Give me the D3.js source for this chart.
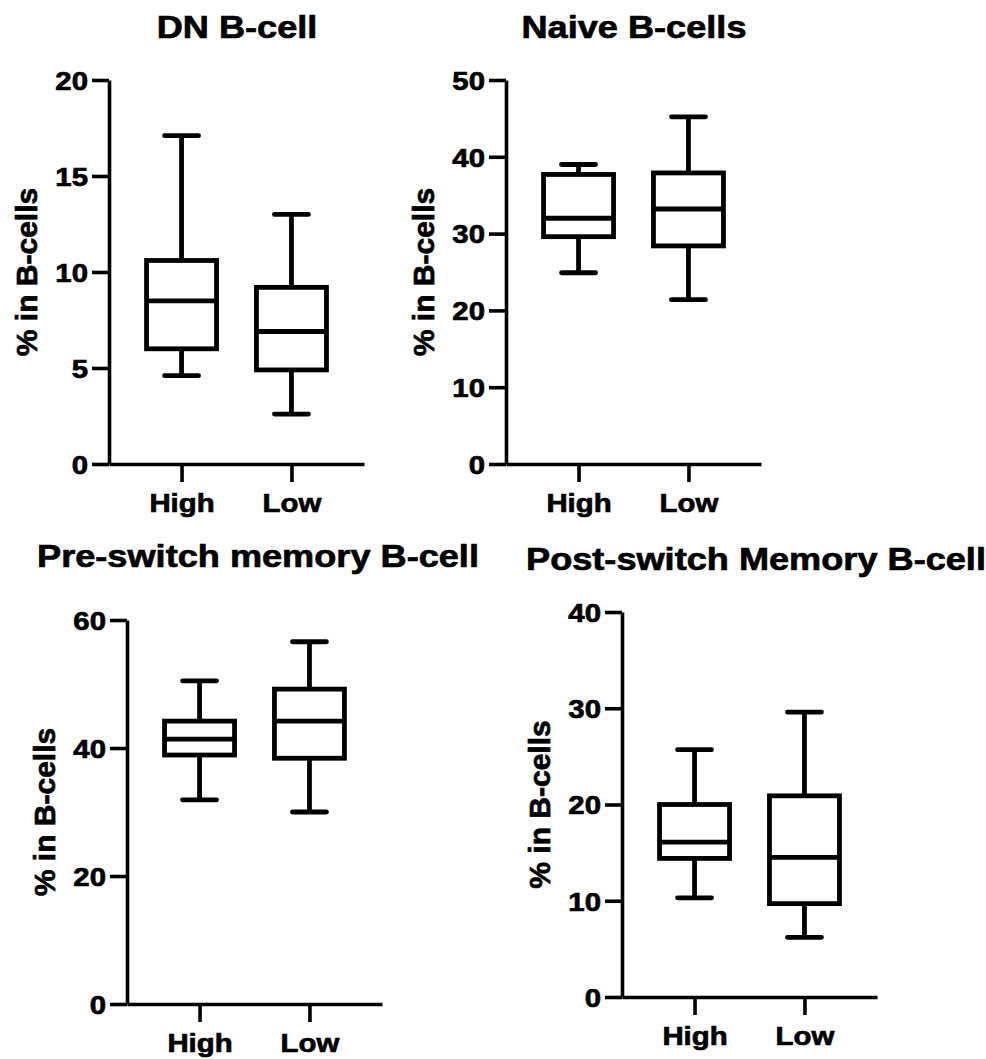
<!DOCTYPE html>
<html>
<head>
<meta charset="utf-8">
<script src="https://cdn.jsdelivr.net/npm/d3@7"></script>
<style>
  body { margin: 0; background: #fff; }
  svg { display: block; }
  svg text { stroke: #000; stroke-width: 0.7px; }
</style>
</head>
<body>
<svg id="chart" width="986" height="1059"></svg>
<script>
// categories and panel texts
const groups = ["High", "Low"];
const titles = ["DN B-cell", "Naive B-cells", "Pre-switch memory B-cell", "Post-switch Memory B-cell"];
const yLabel = "% in B-cells";
const yMax = [20, 50, 60, 40];
const yStep = [5, 10, 20, 10];

// five-number summaries [min, q1, median, q3, max] for High, Low
const dnBcell = [[4.6, 6.0, 8.5, 10.6, 17.1], [2.6, 4.9, 6.9, 9.2, 13.0]];
const naiveBcells = [[24.9, 29.6, 32.0, 37.7, 39.0], [21.4, 28.4, 33.2, 37.9, 45.2]];
const preSwitchMemory = [[31.9, 38.9, 41.4, 44.2, 50.5], [30.0, 38.4, 44.2, 49.2, 56.6]];
const postSwitchMemory = [[10.3, 14.4, 16.1, 20.0, 25.7], [6.2, 9.7, 14.5, 20.9, 29.6]];
const summaries = [dnBcell, naiveBcells, preSwitchMemory, postSwitchMemory];

// panel placement (axis origin, plot top/bottom, title anchor)
const layout = [
  {x: 109, top: 80, bottom: 464, tx: 237, ty: 38},
  {x: 506, top: 80, bottom: 464, tx: 634, ty: 38},
  {x: 127, top: 620, bottom: 1004, tx: 258, ty: 567},
  {x: 622, top: 612, bottom: 997, tx: 756, ty: 570}
];
const plotW = 255;
const stretch = 1.13;   // text in the figure is a bit wider than plain Helvetica
const boxHalf = 35, capHalf = 17;

const svg = d3.select("#chart")
  .attr("font-family", "'Liberation Sans', Arial, Helvetica, sans-serif")
  .attr("font-weight", "bold");

titles.forEach((title, i) => {
  const L = layout[i];
  const x = d3.scalePoint().domain(groups).range([0, plotW]).padding(0.66);
  const y = d3.scaleLinear().domain([0, yMax[i]]).range([L.bottom, L.top]);

  const g = svg.append("g").attr("transform", `translate(${L.x},0)`);

  // y axis
  const ya = g.append("g")
    .call(d3.axisLeft(y)
      .tickValues(d3.range(0, yMax[i] + 1e-9, yStep[i]))
      .tickSize(17).tickSizeOuter(0))
    .attr("font-family", null).attr("font-size", 26);
  ya.select(".domain").attr("stroke", "#000").attr("stroke-width", 3.6);
  ya.selectAll(".tick line").attr("stroke", "#000").attr("stroke-width", 3.6);
  ya.selectAll(".tick text")
    .attr("x", null).attr("dy", "0.36em").attr("fill", "#000")
    .attr("transform", `translate(-21,0) scale(${stretch},1)`);

  // x axis
  const xa = g.append("g")
    .attr("transform", `translate(0,${L.bottom})`)
    .call(d3.axisBottom(x).tickSize(18).tickSizeOuter(0))
    .attr("font-family", null).attr("font-size", 26);
  xa.select(".domain").attr("stroke", "#000").attr("stroke-width", 3.6);
  xa.selectAll(".tick line").attr("stroke", "#000").attr("stroke-width", 3.6);
  xa.selectAll(".tick text")
    .attr("y", null).attr("dy", null).attr("fill", "#000")
    .attr("transform", `translate(0,48) scale(${stretch},1)`);

  // boxes
  const box = g.append("g")
    .attr("stroke", "#000").attr("stroke-width", 4.8)
    .selectAll("g")
    .data(groups.map((k, j) => ({key: k, s: summaries[i][j]})))
    .join("g")
      .attr("transform", d => `translate(${x(d.key)},0)`);

  box.append("line")
    .attr("y1", d => y(d.s[4])).attr("y2", d => y(d.s[3]));
  box.append("line")
    .attr("y1", d => y(d.s[1])).attr("y2", d => y(d.s[0]));
  box.selectAll(".cap")
    .data(d => [d.s[0], d.s[4]])
    .join("line")
      .attr("class", "cap")
      .attr("stroke-linecap", "round")
      .attr("x1", -capHalf).attr("x2", capHalf)
      .attr("y1", v => y(v)).attr("y2", v => y(v));
  box.append("rect")
    .attr("x", -boxHalf).attr("width", boxHalf * 2)
    .attr("y", d => y(d.s[3]))
    .attr("height", d => y(d.s[1]) - y(d.s[3]))
    .attr("fill", "#fff");
  box.append("line")
    .attr("x1", -boxHalf).attr("x2", boxHalf)
    .attr("y1", d => y(d.s[2])).attr("y2", d => y(d.s[2]));

  // y label
  svg.append("text")
    .attr("transform", `translate(${L.x - 72},${(L.top + L.bottom) / 2}) rotate(-90)`)
    .attr("text-anchor", "middle")
    .attr("font-size", 30)
    .text(yLabel);

  // title
  svg.append("text")
    .attr("transform", `translate(${L.tx},${L.ty}) scale(${stretch},1)`)
    .attr("text-anchor", "middle")
    .attr("font-size", 32)
    .text(title);
});
</script>
</body>
</html>
